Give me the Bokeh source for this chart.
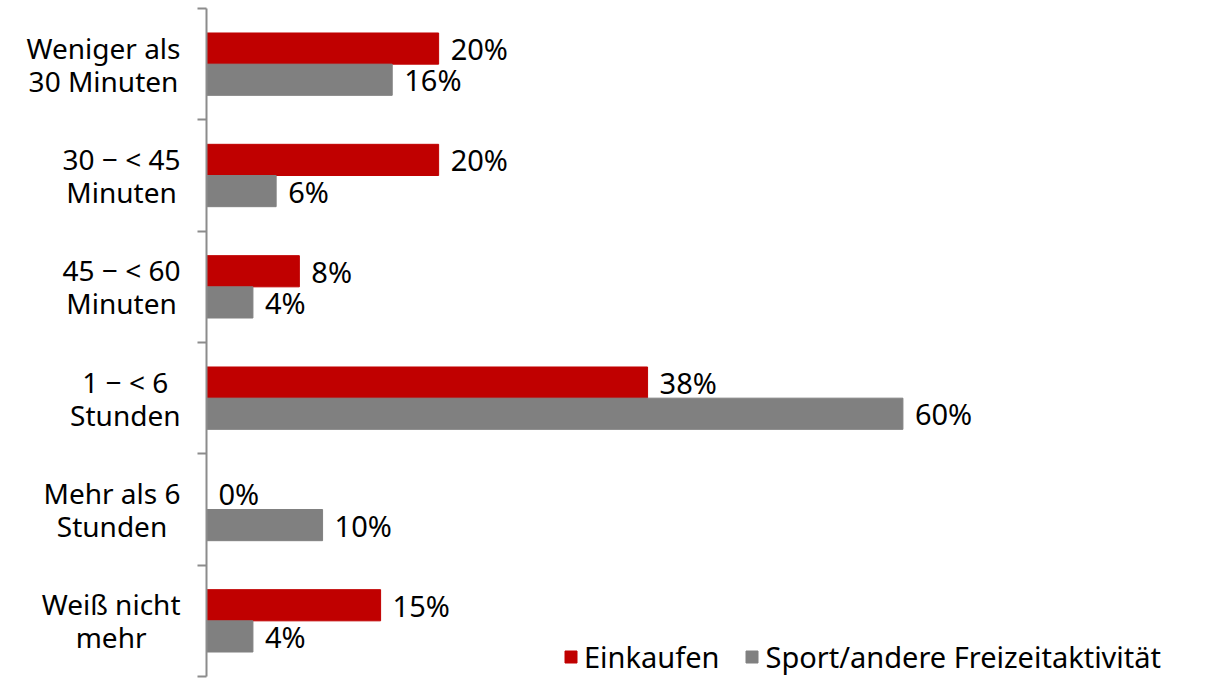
from bokeh.plotting import figure
from bokeh.layouts import row
from bokeh.models import ColumnDataSource, Range1d, FixedTicker, Legend, LegendItem
from bokeh.transform import dodge
from bokeh.core.properties import value
from bokeh.embed import file_html
from bokeh.resources import INLINE
import numpy as np

categories = ["Weniger als\n30 Minuten", "30 \u2212 < 45\nMinuten", "45 \u2212 < 60\nMinuten",
              "1 \u2212 < 6\nStunden", "Mehr als 6\nStunden", "Wei\u00df nicht\nmehr"]
einkaufen = [20, 20, 8, 38, 0, 15]
sport = [16, 6, 4, 60, 10, 4]
series_names = ["Einkaufen", "Sport/andere Freizeitaktivit\u00e4t"]

FONT = "Noto Sans"
FS_CAT = "28px"
FS_VAL = "29px"
FS_LEG = "29px"
RED = "#C00000"
GREY = "#808080"
AXIS = "#8c8c8c"

H = 682
TOP, BOTTOM = 8, 6

pos = list(np.arange(len(categories)) + 0.5)
src = ColumnDataSource(dict(
    y=pos, e=einkaufen, s=sport, cat=categories, one=[1] * len(categories),
    el=[f"{v}%" for v in einkaufen], sl=[f"{v}%" for v in sport],
))
yr = Range1d(len(categories), 0)

# left panel: category labels
lp = figure(width=186, height=H, output_backend="svg", toolbar_location=None,
            x_range=Range1d(0, 1), y_range=yr, x_axis_location=None, y_axis_location=None,
            min_border_top=TOP, min_border_bottom=BOTTOM, min_border_left=0, min_border_right=0)
lp.outline_line_color = None
lp.grid.grid_line_color = None
lp.text(x="one", y="y", text="cat", source=src, anchor="center_right",
        text_align="center", text_baseline="middle", x_offset=-6,
        text_font=value(FONT), text_font_size=FS_CAT, text_color="black",
        text_line_height=0.87)

# main panel
p = figure(width=1024, height=H, output_backend="svg", toolbar_location=None,
           x_range=Range1d(0, 86.5), y_range=yr,
           x_axis_location=None, min_border_top=TOP, min_border_bottom=BOTTOM,
           min_border_right=0, min_border_left=20)
p.outline_line_color = None
p.grid.grid_line_color = None

bh = 0.28
r1 = p.hbar(y=dodge("y", -0.14, range=p.y_range), right="e", left=0, height=bh,
            color=RED, source=src)
r2 = p.hbar(y=dodge("y", 0.14, range=p.y_range), right="s", left=0, height=bh,
            color=GREY, source=src)

for col, lab, off in (("e", "el", -0.14), ("s", "sl", 0.14)):
    p.text(x=col, y=dodge("y", off, range=p.y_range), text=lab, source=src,
           x_offset=12, text_baseline="middle", text_align="left",
           text_font=value(FONT), text_font_size=FS_VAL, text_color="black")

ax = p.yaxis[0]
ax.ticker = FixedTicker(ticks=[], minor_ticks=list(range(len(categories) + 1)))
ax.major_tick_out = 0
ax.major_tick_in = 0
ax.minor_tick_out = 9
ax.minor_tick_in = 0
ax.minor_tick_line_color = AXIS
ax.minor_tick_line_width = 2
ax.axis_line_color = AXIS
ax.axis_line_width = 2
ax.major_label_text_font_size = "1px"

legend = Legend(items=[LegendItem(label=series_names[0], renderers=[r1]),
                       LegendItem(label=series_names[1], renderers=[r2])],
                location=(357, 0), orientation="horizontal")
legend.label_text_font = FONT
legend.label_text_font_size = FS_LEG
legend.label_text_color = "black"
legend.label_height = 30
legend.glyph_width = 15
legend.glyph_height = 15
legend.label_standoff = 6
legend.spacing = 25
legend.padding = 0
legend.margin = 0
legend.border_line_color = None
legend.background_fill_alpha = 0
p.add_layout(legend)

layout = row(lp, p, spacing=0)
open("out.html", "w").write(file_html(layout, INLINE))
